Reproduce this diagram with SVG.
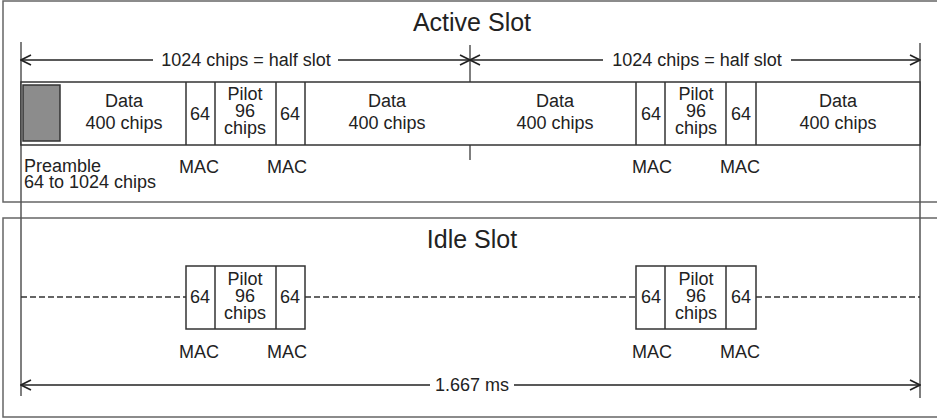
<svg xmlns="http://www.w3.org/2000/svg" width="937" height="419" viewBox="0 0 937 419">
<defs>
<marker id="arr" viewBox="0 0 12 12" refX="11" refY="6" markerWidth="12" markerHeight="12" markerUnits="userSpaceOnUse" orient="auto-start-reverse">
<path d="M1,1 L11,6 L1,11" fill="none" stroke="#222" stroke-width="1.6"/>
</marker>
</defs>
<style>
text{font-family:"Liberation Sans",Arial,sans-serif;fill:#222;}
.t{font-size:25px;text-anchor:middle;}
.l{font-size:18px;text-anchor:middle;}
.ls{font-size:18px;}
.panel{fill:none;stroke:#666;stroke-width:1.5;}
.box{fill:#fff;stroke:#333;stroke-width:1.5;}
.div{stroke:#333;stroke-width:1.5;}
.tick{stroke:#555;stroke-width:1.5;}
.dim{stroke:#222;stroke-width:1.5;fill:none;}
.dash{stroke:#333;stroke-width:1.3;stroke-dasharray:6 3;fill:none;}
</style>
<rect x="0" y="0" width="937" height="419" fill="#fff"/>
<g id="panels">
<path class="panel" d="M940,1 H3 V202 H940"/>
<path class="panel" d="M940,218 H3 V417 H940"/>
</g>
<g id="titles">
<text class="t" x="472" y="31">Active Slot</text>
<text class="t" x="472" y="248">Idle Slot</text>
</g>
<g id="ticks">
<line class="tick" x1="21" y1="42" x2="21" y2="396"/>
<line class="tick" x1="920" y1="43" x2="920" y2="398"/>
<line class="tick" x1="470" y1="45" x2="470" y2="160"/>
</g>
<g id="active-slot">
<rect class="box" x="21" y="82" width="899" height="63"/>
<rect x="23" y="85" width="37" height="56" fill="#8c8c8c" stroke="#333" stroke-width="1.5"/>
<line class="div" x1="186" y1="82" x2="186" y2="145"/>
<line class="div" x1="215" y1="82" x2="215" y2="145"/>
<line class="div" x1="276" y1="82" x2="276" y2="145"/>
<line class="div" x1="305" y1="82" x2="305" y2="145"/>
<line class="div" x1="636" y1="82" x2="636" y2="145"/>
<line class="div" x1="665" y1="82" x2="665" y2="145"/>
<line class="div" x1="726" y1="82" x2="726" y2="145"/>
<line class="div" x1="756" y1="82" x2="756" y2="145"/>
<text class="l" x="124" y="107">Data</text>
<text class="l" x="124" y="129">400 chips</text>
<text class="l" x="200" y="120">64</text>
<text class="l" x="245" y="100">Pilot</text>
<text class="l" x="245" y="117">96</text>
<text class="l" x="245" y="134">chips</text>
<text class="l" x="290" y="120">64</text>
<text class="l" x="387" y="107">Data</text>
<text class="l" x="387" y="129">400 chips</text>
<text class="l" x="555" y="107">Data</text>
<text class="l" x="555" y="129">400 chips</text>
<text class="l" x="651" y="120">64</text>
<text class="l" x="696" y="100">Pilot</text>
<text class="l" x="696" y="117">96</text>
<text class="l" x="696" y="134">chips</text>
<text class="l" x="741" y="120">64</text>
<text class="l" x="838" y="107">Data</text>
<text class="l" x="838" y="129">400 chips</text>
<text class="l" x="199" y="173">MAC</text>
<text class="l" x="287" y="173">MAC</text>
<text class="l" x="652" y="173">MAC</text>
<text class="l" x="740" y="173">MAC</text>
<text class="ls" x="24" y="172">Preamble</text>
<text class="ls" x="24" y="188">64 to 1024 chips</text>
</g>
<g id="idle-mac-1">
<rect class="box" x="186" y="266" width="119" height="63"/>
<line class="div" x1="215" y1="266" x2="215" y2="329"/>
<line class="div" x1="276" y1="266" x2="276" y2="329"/>
<text class="l" x="200" y="303">64</text>
<text class="l" x="245" y="285">Pilot</text>
<text class="l" x="245" y="302">96</text>
<text class="l" x="245" y="319">chips</text>
<text class="l" x="290" y="303">64</text>
<text class="l" x="199" y="358">MAC</text>
<text class="l" x="287" y="358">MAC</text>
</g>
<g id="idle-mac-2">
<rect class="box" x="636" y="266" width="120" height="63"/>
<line class="div" x1="665" y1="266" x2="665" y2="329"/>
<line class="div" x1="726" y1="266" x2="726" y2="329"/>
<text class="l" x="651" y="303">64</text>
<text class="l" x="696" y="285">Pilot</text>
<text class="l" x="696" y="302">96</text>
<text class="l" x="696" y="319">chips</text>
<text class="l" x="741" y="303">64</text>
<text class="l" x="652" y="358">MAC</text>
<text class="l" x="740" y="358">MAC</text>
</g>
<g id="connectors">
<line class="dim" x1="21" y1="60" x2="153" y2="60" marker-start="url(#arr)"/>
<line class="dim" x1="338" y1="60" x2="470" y2="60" marker-end="url(#arr)"/>
<text class="l" x="246" y="66">1024 chips = half slot</text>
<line class="dim" x1="470" y1="60" x2="603" y2="60" marker-start="url(#arr)"/>
<line class="dim" x1="791" y1="60" x2="920" y2="60" marker-end="url(#arr)"/>
<text class="l" x="697" y="66">1024 chips = half slot</text>
<line class="dim" x1="21" y1="385" x2="430" y2="385" marker-start="url(#arr)"/>
<line class="dim" x1="514" y1="385" x2="920" y2="385" marker-end="url(#arr)"/>
<text class="l" x="472" y="391">1.667 ms</text>
<line class="dash" x1="21" y1="297" x2="186" y2="297"/>
<line class="dash" x1="305" y1="297" x2="636" y2="297"/>
<line class="dash" x1="756" y1="297" x2="920" y2="297"/>
</g>
</svg>
